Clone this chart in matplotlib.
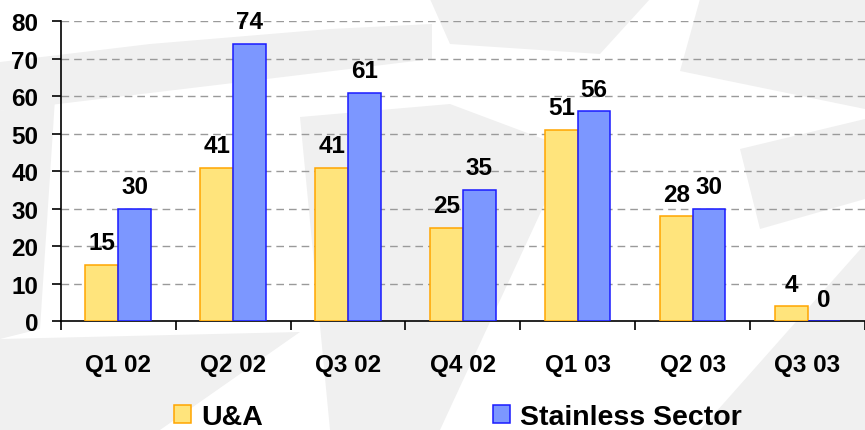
import matplotlib.pyplot as plt
import numpy as np
from matplotlib.patches import Polygon

plt.rcParams['font.family'] = ['Liberation Sans', 'DejaVu Sans']
plt.rcParams['font.weight'] = 'bold'

quarters = ['Q1 02', 'Q2 02', 'Q3 02', 'Q4 02', 'Q1 03', 'Q2 03', 'Q3 03']
ua = [15, 41, 41, 25, 51, 28, 4]
stainless = [30, 74, 61, 35, 56, 30, 0]
series_names = ['U&A', 'Stainless Sector']
yticks = [0, 10, 20, 30, 40, 50, 60, 70, 80]

yellow_fill = '#FFE47C'
yellow_edge = '#FFA500'
blue_fill = '#7C97FF'
blue_edge = '#1A1AFF'

W, H = 865, 431
fig = plt.figure(figsize=(W / 100, H / 100), dpi=100)

# faint watermark shapes in the background (pixel coords, y down)
bg = '#f0f0f0'
shapes = [
    [(0, 63), (150, 45), (330, 30), (432, 25), (432, 60), (250, 82), (0, 112)],
    [(0, 112), (55, 100), (40, 330), (0, 340)],
    [(0, 340), (300, 333), (160, 431), (0, 431)],
    [(300, 118), (450, 105), (570, 150), (440, 431), (330, 431)],
    [(430, 0), (650, 0), (600, 55), (450, 45)],
    [(700, 0), (865, 0), (865, 110), (680, 72)],
    [(865, 245), (865, 431), (700, 431)],
    [(740, 150), (865, 120), (865, 200), (760, 230)],
]
for pts in shapes:
    pts_fig = [(px / W, 1 - py / H) for px, py in pts]
    fig.patches.append(Polygon(pts_fig, closed=True, transform=fig.transFigure,
                               facecolor=bg, edgecolor='none', zorder=-10))

ax = fig.add_axes([60.7 / W, 1 - 322.3 / H, (W - 60.7) / W, 300 / H])
ax.patch.set_alpha(0)

x = np.arange(len(quarters))
w = 0.285
b1 = ax.bar(x - w / 2, ua, w, color=yellow_fill, edgecolor=yellow_edge, linewidth=1.1,
            label=series_names[0], zorder=3)
b2 = ax.bar(x + w / 2, stainless, w, color=blue_fill, edgecolor=blue_edge, linewidth=1.1,
            label=series_names[1], zorder=3)

for xi, v in zip(x - w / 2, ua):
    ax.annotate(str(v), (xi, v), xytext=(0, 11.3), textcoords='offset points',
                ha='center', va='baseline', fontsize=17.5, fontweight='bold')
for xi, v in zip(x + w / 2, stainless):
    ax.annotate(str(v), (xi, v), xytext=(0, 11.3), textcoords='offset points',
                ha='center', va='baseline', fontsize=17.5, fontweight='bold')

ax.set_xlim(-0.5, 6.448)
ax.set_ylim(0, 80)
ax.set_yticks(yticks)
ax.set_xticks(x)
ax.set_xticklabels(quarters)
ax.set_xticks(np.arange(-0.5, len(quarters), 1.0), minor=True)
ax.tick_params(axis='x', which='major', length=0, pad=22.5, labelsize=17.5)
ax.tick_params(axis='x', which='minor', length=6.7, width=1.2, direction='out', color='black')
ax.tick_params(axis='y', length=6.5, width=1.2, direction='out', pad=9.6, labelsize=17.5)

for v in yticks[1:]:
    ax.axhline(v, color='#9a9a9a', linewidth=1.0, linestyle=(0, (5.5, 3.6)), zorder=1)

ax.spines['top'].set_visible(False)
ax.spines['right'].set_visible(False)
ax.spines['left'].set_linewidth(1.2)
ax.spines['bottom'].set_linewidth(1.2)

fig.legend(handles=[b1, b2], loc='center', bbox_to_anchor=(0.529, 0.03), ncol=2,
           frameon=False, prop={'size': 20.5, 'weight': 'bold'}, borderpad=0,
           handlelength=0.6, handleheight=0.6, handletextpad=0.35, columnspacing=8.07)

fig.savefig('out.png', dpi=100)
